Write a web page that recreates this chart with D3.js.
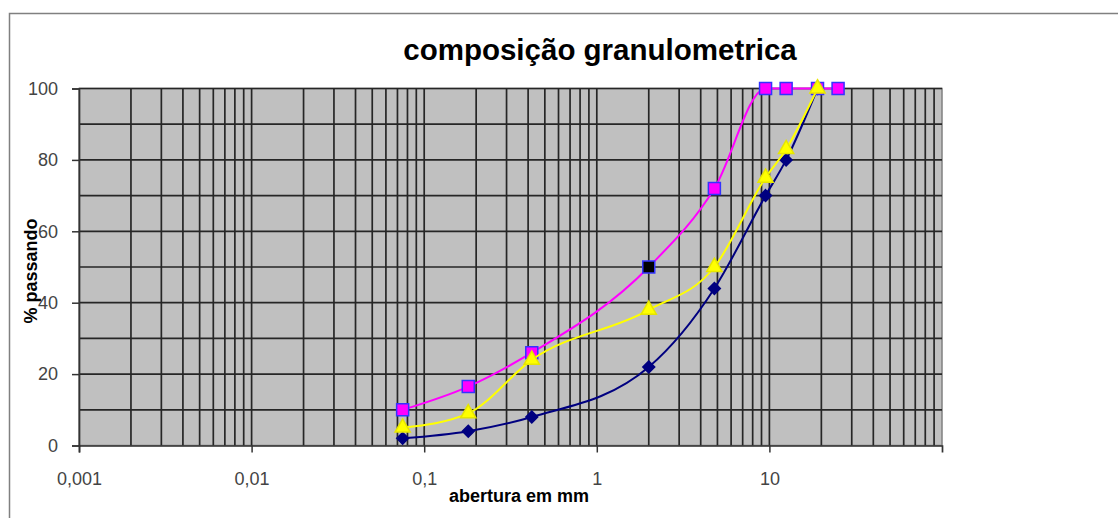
<!DOCTYPE html>
<html>
<head>
<meta charset="utf-8">
<script src="https://cdn.jsdelivr.net/npm/d3@7"></script>
<style>
  body { margin: 0; background: #fff; }
  text { font-family: "Liberation Sans", Arial, sans-serif; }
</style>
</head>
<body>
<div id="chart"></div>
<script>
// sieve openings (mm)
const sieves = [0.075, 0.18, 0.42, 2.0, 4.8, 9.5, 12.5, 19, 25];

// % passing for each curve (null = no point)
const lowerCurve = [2, 4, 8, 22, 44, 70, 80, 100, null];
const upperCurve = [10, 16.5, 26, 50, 72, 100, 100, 100, 100];
const sampleCurve = [5, 9, 24, 38, 50, 75, 83, 100, null];

const xTickValues = [0.001, 0.01, 0.1, 1, 10];
const xTickLabels = ['0,001', '0,01', '0,1', '1', '10'];
const yTickValues = [0, 20, 40, 60, 80, 100];

const width = 1118;
const height = 518;

const svg = d3.select('#chart')
  .append('svg')
  .attr('width', width)
  .attr('height', height);

// outer chart frame (runs off the right and bottom edges)
svg.append('rect')
  .attr('x', 9.5)
  .attr('y', 13.5)
  .attr('width', 1200)
  .attr('height', 600)
  .attr('fill', '#fff')
  .attr('stroke', '#808080')
  .attr('stroke-width', 1.5);

// scales
const xScale = d3.scaleLog()
  .domain([0.001, 100])
  .range([79, 942]);

const yScale = d3.scaleLinear()
  .domain([0, 100])
  .range([445.5, 88.5]);

// plot area
svg.append('rect')
  .attr('x', xScale(0.001))
  .attr('y', yScale(100))
  .attr('width', xScale(100) - xScale(0.001))
  .attr('height', yScale(0) - yScale(100))
  .attr('fill', '#c0c0c0')
  .attr('stroke', '#808080')
  .attr('stroke-width', 1.5);

// vertical gridlines: 1..9 in every decade
const xGrid = [];
for (let e = -3; e < 2; e++) {
  for (let k = 1; k <= 9; k++) {
    if (!(e === -3 && k === 1)) xGrid.push(k * Math.pow(10, e));
  }
}

svg.append('g')
  .selectAll('line')
  .data(xGrid)
  .enter()
  .append('line')
  .attr('x1', d => xScale(d))
  .attr('x2', d => xScale(d))
  .attr('y1', yScale(0))
  .attr('y2', yScale(100))
  .attr('stroke', '#262626')
  .attr('stroke-width', 1.7);

// horizontal gridlines every 10
svg.append('g')
  .selectAll('line')
  .data(d3.range(10, 101, 10))
  .enter()
  .append('line')
  .attr('x1', xScale(0.001))
  .attr('x2', xScale(100))
  .attr('y1', d => yScale(d))
  .attr('y2', d => yScale(d))
  .attr('stroke', '#262626')
  .attr('stroke-width', 1.7);

// axes
const xAxis = svg.append('g')
  .attr('transform', `translate(0, ${yScale(0)})`)
  .call(d3.axisBottom(xScale)
    .tickValues(xTickValues)
    .tickFormat((d, i) => xTickLabels[i])
    .tickSize(7)
    .tickPadding(20));

const yAxis = svg.append('g')
  .attr('transform', `translate(${xScale(0.001)}, 0)`)
  .call(d3.axisLeft(yScale)
    .tickValues(yTickValues)
    .tickSize(7)
    .tickPadding(14));

[xAxis, yAxis].forEach(ax => {
  ax.select('.domain').attr('stroke', '#333').attr('stroke-width', 1.7);
  ax.selectAll('.tick line').attr('stroke', '#333').attr('stroke-width', 1.5);
  ax.selectAll('.tick text')
    .attr('fill', '#444')
    .style('font-size', '18px')
    .style('font-family', '"Liberation Sans", Arial, sans-serif');
});

// title and axis titles
svg.append('text')
  .attr('x', 600)
  .attr('y', 60)
  .attr('text-anchor', 'middle')
  .style('font-size', '29.5px')
  .style('font-weight', 'bold')
  .text('composição granulometrica');

svg.append('text')
  .attr('x', 519)
  .attr('y', 502)
  .attr('text-anchor', 'middle')
  .style('font-size', '18px')
  .style('font-weight', 'bold')
  .text('abertura em mm');

svg.append('text')
  .attr('transform', 'translate(37, 271) rotate(-90)')
  .attr('text-anchor', 'middle')
  .style('font-size', '18px')
  .style('font-weight', 'bold')
  .text('% passando');

// smoothed lines
const line = d3.line()
  .x(d => xScale(d.x))
  .y(d => yScale(d.y))
  .curve(d3.curveMonotoneX);

function toPoints(values) {
  return sieves.map((x, i) => ({ x: x, y: values[i] })).filter(d => d.y !== null);
}

function drawSeries(values, color, marker, size, fill, stroke) {
  const pts = toPoints(values);

  svg.append('path')
    .datum(pts)
    .attr('d', line)
    .attr('fill', 'none')
    .attr('stroke', color)
    .attr('stroke-width', 2);

  svg.append('g')
    .selectAll('path')
    .data(pts)
    .enter()
    .append('path')
    .attr('d', d3.symbol().type(marker).size(size))
    .attr('transform', d => `translate(${xScale(d.x)}, ${yScale(d.y)})`)
    .attr('fill', fill)
    .attr('stroke', stroke)
    .attr('stroke-width', 1.5);
}

// diamond marker (d3 has no plain square-diamond, rotate a square)
const diamond = {
  draw(context, size) {
    const r = Math.sqrt(size / 2);
    context.moveTo(0, -r);
    context.lineTo(r, 0);
    context.lineTo(0, r);
    context.lineTo(-r, 0);
    context.closePath();
  }
};

drawSeries(lowerCurve, '#000080', diamond, 70, '#000080', '#000080');
drawSeries(upperCurve, '#ff00ff', d3.symbolSquare, 144, (d, i) => i === 3 ? '#000' : '#ff00ff', '#3333ff');
drawSeries(sampleCurve, '#ffff00', d3.symbolTriangle, 100, '#ffff00', '#e6e600');
</script>
</body>
</html>
